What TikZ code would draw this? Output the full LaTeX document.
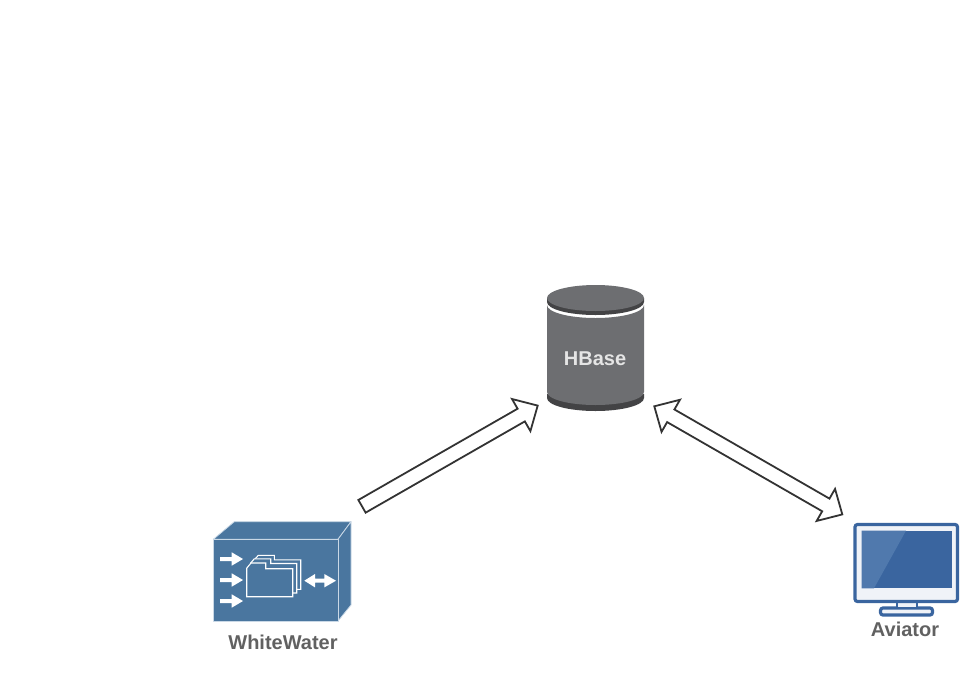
\documentclass[tikz,border=0pt]{standalone}
\usepackage{fontspec}
\setmainfont{Liberation Sans}
\usetikzlibrary{calc}

\definecolor{cubeblue}{HTML}{4A769F}
\definecolor{edgeblue}{HTML}{C9D8E6}
\definecolor{dbgrey}{HTML}{6D6E71}
\definecolor{dbdark}{HTML}{434345}
\definecolor{labelgrey}{HTML}{616161}
\definecolor{screenblue}{HTML}{3A659F}
\definecolor{screenlight}{HTML}{5079AD}
\definecolor{bezel}{HTML}{F0F3F8}
\definecolor{arrowline}{HTML}{333333}

\begin{document}
\begin{tikzpicture}[x=1pt, y=-1pt]
	\tikzstyle{label}=[font=\fontsize{20}{24}\selectfont\bfseries, inner sep=0pt, text=labelgrey];
	\tikzstyle{fat}=[draw=arrowline, line width=1.8pt, fill=white, miter limit=10];
	\tikzstyle{cube}=[fill=cubeblue, draw=edgeblue, line width=0.8pt, line join=round];
	\tikzstyle{glyph}=[fill=white];
	\tikzstyle{folder}=[draw=white, line width=1.1pt, fill=cubeblue];
	\tikzstyle{monitor}=[draw=screenblue, line width=3.2pt, fill=bezel, rounded corners=2.5pt];

	\useasboundingbox (0, 0) rectangle (979, 694);

	% cube
	\draw[cube] (213.3, 539.3) -- (234.3, 521.7) -- (351, 521.7) -- (338, 539.3) -- cycle;
	\draw[cube] (338, 539.3) -- (351, 521.7) -- (351, 605) -- (338, 621) -- cycle;
	\draw[cube] (213.3, 539.3) rectangle (338, 621);
	\foreach \y in {559, 580, 601} {
		\fill[glyph] (220, \y-2) -- (231.7, \y-2) -- (231.7, \y-6.7) -- (243, \y) -- (231.7, \y+6.7) -- (231.7, \y+2) -- (220, \y+2) -- cycle;
	}
	\fill[glyph] (304.3, 580.7) -- (315, 574) -- (315, 578.7) -- (324.3, 578.7) -- (324.3, 574) -- (336, 580.7) -- (324.3, 587.4) -- (324.3, 582.7) -- (315, 582.7) -- (315, 587.4) -- cycle;
	\draw[folder] (254.8, 559.3) -- (258.3, 555.3) -- (274.3, 555.3) -- (274.3, 559.8) -- (300.7, 559.8) -- (300.7, 589.3) -- (260, 589.3) -- cycle;
	\draw[folder] (250.7, 563) -- (254.3, 558.8) -- (270.7, 558.8) -- (270.7, 563.5) -- (296.7, 563.5) -- (296.7, 593) -- (250.7, 593) -- cycle;
	\draw[folder] (246.7, 568.2) -- (251, 563) -- (265.7, 563) -- (265.7, 568.7) -- (292.7, 568.7) -- (292.7, 596.7) -- (246.7, 596.7) -- cycle;
	\node[label] (whitewater) at (283, 642) {WhiteWater};

	% database
	\fill[dbdark] (547, 394) -- (547, 398) arc[start angle=180, end angle=360, x radius=48.5pt, y radius=13pt] -- (644, 394) -- cycle;
	\fill[dbgrey] (547, 305) arc[start angle=180, end angle=360, x radius=48.5pt, y radius=13pt] -- (644, 392) arc[start angle=360, end angle=180, x radius=48.5pt, y radius=13pt] -- cycle;
	\fill[dbdark] (547, 298) -- (547, 302) arc[start angle=180, end angle=360, x radius=48.5pt, y radius=13pt] -- (644, 298) -- cycle;
	\fill[dbgrey] (595.5, 298) ellipse[x radius=48.5pt, y radius=13pt];
	\node[label, text=white!90!black] (hbase) at (595, 358.5) {HBase};

	% monitor
	\draw[monitor] (880.5, 608) rectangle (932.5, 615);
	\draw[screenblue, line width=2pt, fill=bezel] (897, 602) rectangle (916.5, 608);
	\draw[monitor] (855, 524.5) rectangle (957.5, 601.5);
	\fill[screenblue] (861.7, 530.7) rectangle (951.7, 588.3);
	\fill[screenlight] (861.7, 530.7) -- (906, 530.7) -- (874, 588.3) -- (861.7, 588.3) -- cycle;
	\node[label] (aviator) at (905, 629) {Aviator};

	\coordinate (wwout) at (362, 506.3);
	\coordinate (hbin) at (537.7, 405.6);
	\coordinate (hbout) at (654.3, 406.3);
	\coordinate (avin) at (842.3, 514.4);

	\coordinate (hbneck) at ($(hbin)!19pt!(wwout)$);
	\draw[fat] ($(hbneck)!7.3pt!90:(hbin)$) -- ($(hbneck)!18.5pt!90:(hbin)$) -- (hbin) -- ($(hbneck)!18.5pt!-90:(hbin)$) -- ($(hbneck)!7.3pt!-90:(hbin)$) -- ($(wwout)!7.3pt!-90:(hbin)$) -- ($(wwout)!7.3pt!90:(hbin)$) -- cycle;

	\coordinate (hboutneck) at ($(hbout)!19pt!(avin)$);
	\coordinate (avneck) at ($(avin)!19pt!(hbout)$);
	\draw[fat] ($(avneck)!7.3pt!90:(avin)$) -- ($(avneck)!18.5pt!90:(avin)$) -- (avin) -- ($(avneck)!18.5pt!-90:(avin)$) -- ($(avneck)!7.3pt!-90:(avin)$) -- ($(hboutneck)!7.3pt!90:(hbout)$) -- ($(hboutneck)!18.5pt!90:(hbout)$) -- (hbout) -- ($(hboutneck)!18.5pt!-90:(hbout)$) -- ($(hboutneck)!7.3pt!-90:(hbout)$) -- cycle;
\end{tikzpicture}
\end{document}
